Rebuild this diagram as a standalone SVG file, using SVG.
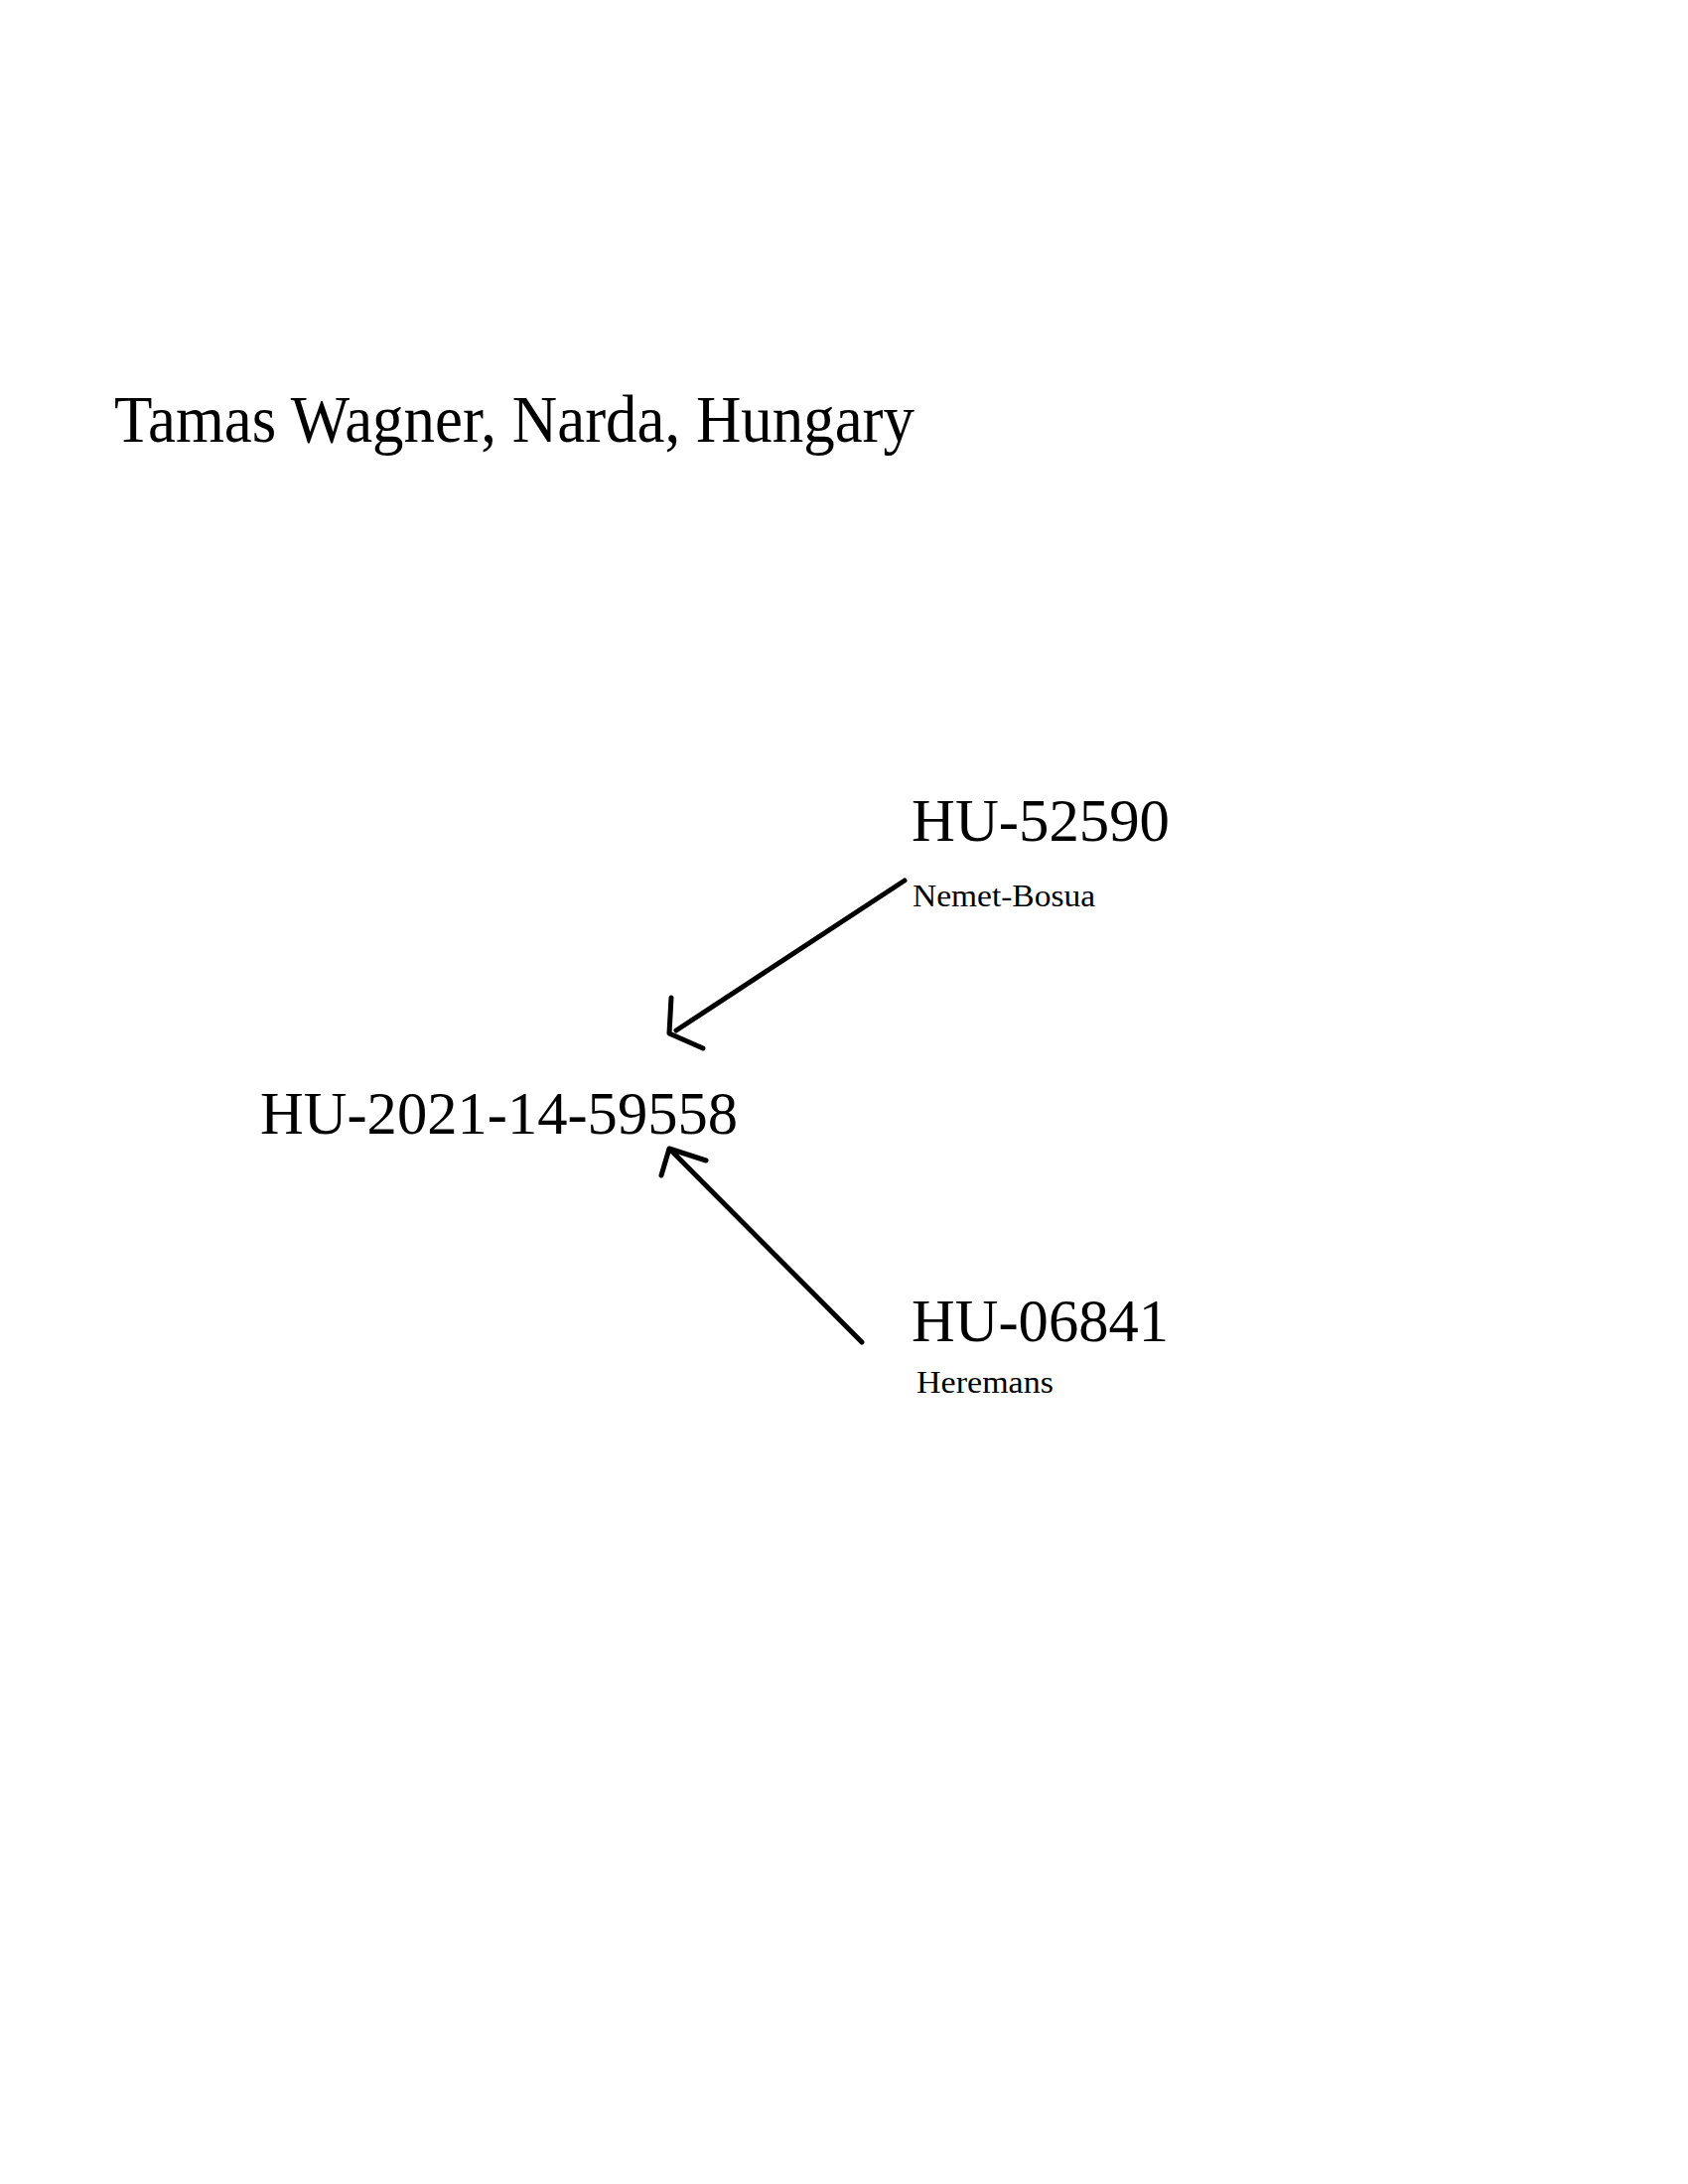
<svg xmlns="http://www.w3.org/2000/svg" width="1700" height="2200" viewBox="0 0 1700 2200">
<style>
text{font-family:"Liberation Serif","Times New Roman",serif;fill:#000}
.big{font-size:62px}
.small{font-size:32px}
.title{font-size:68px}
.conn{fill:none;stroke:#000;stroke-width:5;stroke-linecap:round;stroke-linejoin:round}
</style>
<rect width="1700" height="2200" fill="#fff"/>
<text id="title" class="title" x="115" y="445" textLength="806" lengthAdjust="spacingAndGlyphs">Tamas Wagner, Narda, Hungary</text>
<g id="node-HU-52590">
<text class="big" x="918" y="847" textLength="260" lengthAdjust="spacingAndGlyphs">HU-52590</text>
<text class="small" x="919" y="913" textLength="184" lengthAdjust="spacingAndGlyphs">Nemet-Bosua</text>
</g>
<g id="node-HU-2021-14-59558">
<text class="big" x="262" y="1142" textLength="481" lengthAdjust="spacingAndGlyphs">HU-2021-14-59558</text>
</g>
<g id="node-HU-06841">
<text class="big" x="918" y="1351" textLength="259" lengthAdjust="spacingAndGlyphs">HU-06841</text>
<text class="small" x="923" y="1403" textLength="138" lengthAdjust="spacingAndGlyphs">Heremans</text>
</g>
<g id="connectors">
<line class="conn" x1="911" y1="887" x2="681" y2="1038"/>
<polyline class="conn" points="676,1005 674,1041 708,1056"/>
<line class="conn" x1="868" y1="1352" x2="677" y2="1160"/>
<polyline class="conn" points="666,1184 674,1157 711,1169"/>
</g>
</svg>
